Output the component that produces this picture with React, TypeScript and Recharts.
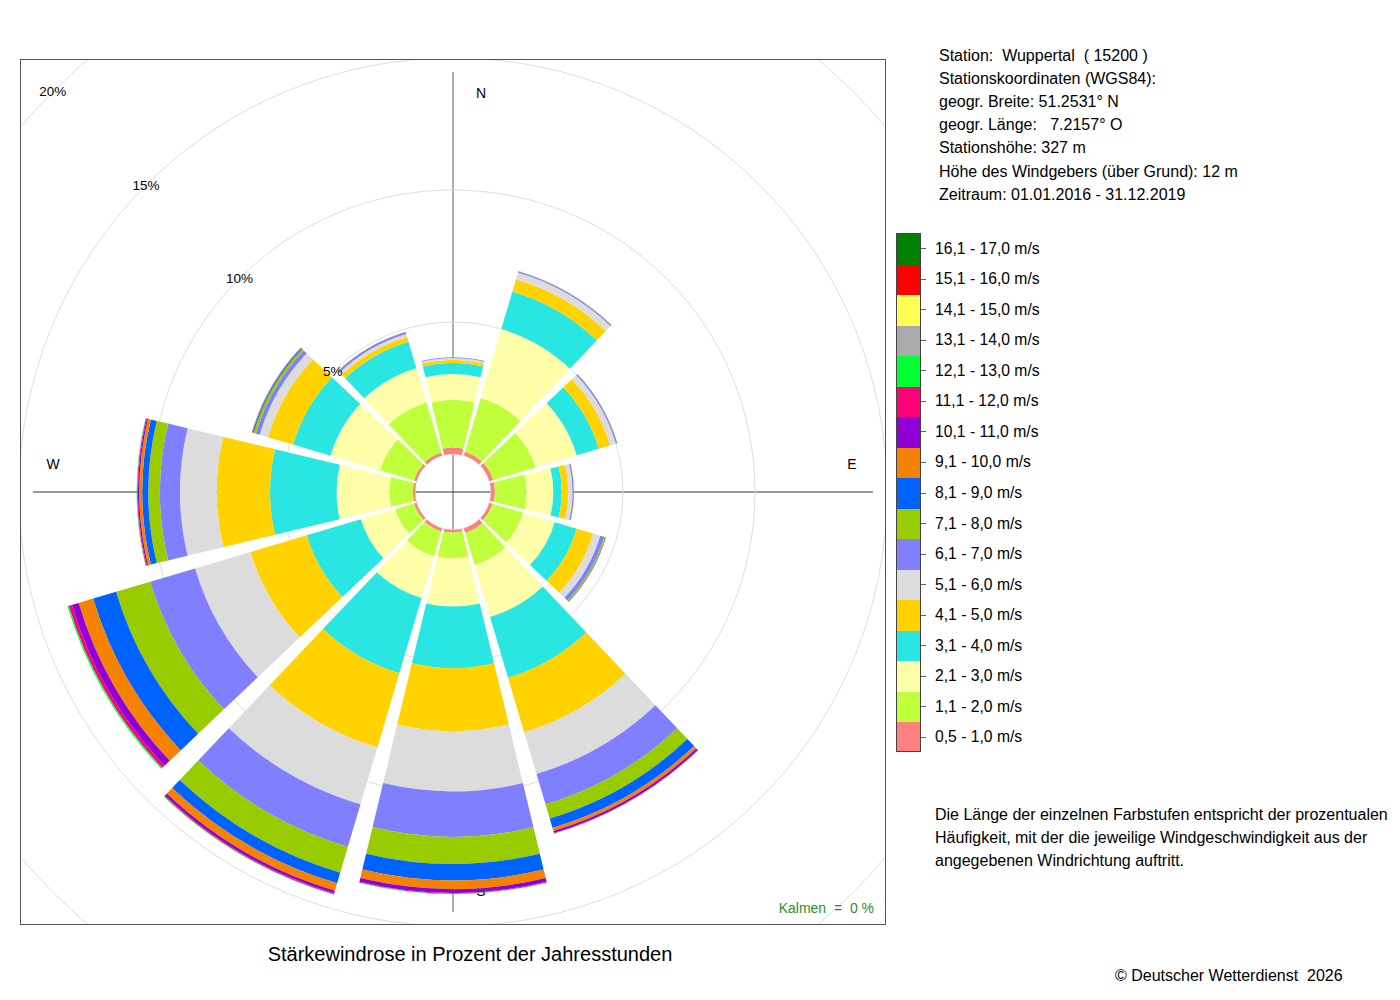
import React from 'react';
import { RadialBarChart, RadialBar, PolarAngleAxis, PolarRadiusAxis, PolarGrid } from 'recharts';

const FONT = '"Liberation Sans", Arial, Helvetica, sans-serif';

// wind directions, clockwise from north
const directions = ['360°', '30°', '60°', '90°', '120°', '150°', '180°', '210°', '240°', '270°', '300°', '330°'];

const speedClasses = [
  '0,5 - 1,0 m/s', '1,1 - 2,0 m/s', '2,1 - 3,0 m/s', '3,1 - 4,0 m/s', '4,1 - 5,0 m/s',
  '5,1 - 6,0 m/s', '6,1 - 7,0 m/s', '7,1 - 8,0 m/s', '8,1 - 9,0 m/s', '9,1 - 10,0 m/s',
  '10,1 - 11,0 m/s', '11,1 - 12,0 m/s', '12,1 - 13,0 m/s', '13,1 - 14,0 m/s',
  '14,1 - 15,0 m/s', '15,1 - 16,0 m/s', '16,1 - 17,0 m/s',
];

const speedColors = [
  '#ff8080', '#bfff3c', '#ffffaa', '#29e6e3', '#ffd200', '#dcdcdc', '#8080ff', '#98cc00',
  '#0062ff', '#f58200', '#9000d6', '#ff0078', '#00ff33', '#aaaaaa', '#ffff55', '#ff0000', '#007f00',
];

// percent of hours per direction, one list per speed class
const ms05to10 = [0.25, 0.15, 0.15, 0.15, 0.12, 0.18, 0.1, 0.12, 0.1, 0.08, 0.1, 0.12];
const ms11to20 = [1.8, 2.12, 1.67, 1.2, 1.21, 1.26, 0.97, 0.98, 0.75, 0.89, 1.35, 1.98];
const ms21to30 = [0.98, 2.73, 1.63, 1.01, 1.25, 2.06, 1.83, 1.65, 1.35, 2.0, 1.95, 1.35];
const ms31to40 = [0.42, 1.48, 0.87, 0.32, 0.87, 2.4, 2.33, 2.97, 2.14, 2.52, 1.48, 1.05];
const ms41to50 = [0.12, 0.49, 0.45, 0.25, 0.65, 2.15, 2.39, 2.93, 2.22, 2.02, 0.99, 0.18];
const ms51to60 = [0.06, 0.26, 0.23, 0.16, 0.28, 1.65, 2.28, 2.25, 2.19, 1.39, 0.33, 0.12];
const ms61to70 = [0.03, 0.05, 0.05, 0.05, 0.15, 1.2, 1.72, 1.68, 1.77, 0.76, 0.15, 0.08];
const ms71to80 = [0, 0.01, 0.01, 0.01, 0.05, 0.56, 1.03, 1.02, 1.35, 0.44, 0.09, 0.01];
const ms81to90 = [0, 0, 0, 0, 0.02, 0.37, 0.62, 0.42, 0.91, 0.23, 0.04, 0];
const ms91to100 = [0, 0, 0, 0, 0.01, 0.12, 0.33, 0.29, 0.57, 0.11, 0.02, 0];
const ms101to110 = [0, 0, 0, 0, 0, 0.08, 0.14, 0.1, 0.27, 0.05, 0.01, 0];
const ms111to120 = [0, 0, 0, 0, 0, 0.02, 0.03, 0.04, 0.12, 0.03, 0, 0];
const ms121to130 = [0, 0, 0, 0, 0, 0.01, 0.02, 0.02, 0.05, 0.02, 0, 0];
const ms131to140 = [0, 0, 0, 0, 0, 0, 0, 0, 0, 0, 0, 0];
const ms141to150 = [0, 0, 0, 0, 0, 0, 0, 0, 0, 0, 0, 0];
const ms151to160 = [0, 0, 0, 0, 0, 0, 0, 0, 0, 0, 0, 0];
const ms161to170 = [0, 0, 0, 0, 0, 0, 0, 0, 0, 0, 0, 0];

const percentTicks = [0, 5, 10, 15, 20];

const stationLines = [
  'Station:  Wuppertal  ( 15200 )',
  'Stationskoordinaten (WGS84):',
  'geogr. Breite: 51.2531° N',
  'geogr. Länge:   7.2157° O',
  'Stationshöhe: 327 m',
  'Höhe des Windgebers (über Grund): 12 m',
  'Zeitraum: 01.01.2016 - 31.12.2019',
];

const noteLines = [
  'Die Länge der einzelnen Farbstufen entspricht der prozentualen',
  'Häufigkeit, mit der die jeweilige Windgeschwindigkeit aus der',
  'angegebenen Windrichtung auftritt.',
];

const classValues = [
  ms05to10, ms11to20, ms21to30, ms31to40, ms41to50, ms51to60, ms61to70, ms71to80, ms81to90,
  ms91to100, ms101to110, ms111to120, ms121to130, ms131to140, ms141to150, ms151to160, ms161to170,
];

const rows = directions.map((dir, i) => {
  const row: Record<string, string | number> = { dir };
  classValues.forEach((vals, k) => {
    row['c' + k] = vals[i];
  });
  return row;
});

const FRAME = 866;
const CX = 433;
const CY = 433;

function PercentTick(props: any) {
  const { x, y, payload } = props;
  if (!payload || payload.value === 0) return null;
  return (
    <text x={x} y={y} textAnchor="middle" dominantBaseline="central" fontSize={13.5} fontFamily={FONT} fill="#000">
      {payload.value}%
    </text>
  );
}

const txt: React.CSSProperties = { position: 'absolute', fontFamily: FONT, whiteSpace: 'pre', color: '#000' };

export default function App() {
  const rowH = 519 / speedClasses.length;
  return (
    <div style={{ position: 'absolute', left: 0, top: 0, width: 1400, height: 1000, background: '#fff' }}>
      {/* cross and compass letters, behind the sectors */}
      <svg style={{ position: 'absolute', left: 20, top: 59 }} width={FRAME} height={FRAME}>
        <line x1={CX} y1={13} x2={CX} y2={853} stroke="#999" strokeWidth={1.6} />
        <line x1={13} y1={CY} x2={853} y2={CY} stroke="#333" strokeWidth={1} />
        <g fontFamily={FONT} fontSize={14} textAnchor="middle" dominantBaseline="central">
          <text x={461} y={34}>N</text>
          <text x={832} y={405}>E</text>
          <text x={461} y={832}>S</text>
          <text x={33} y={405}>W</text>
        </g>
      </svg>

      <div style={{ position: 'absolute', left: 20, top: 59, width: FRAME, height: FRAME }}>
        <RadialBarChart
          width={FRAME}
          height={FRAME}
          data={rows}
          layout="centric"
          cx={CX}
          cy={CY}
          innerRadius={38}
          outerRadius={566}
          startAngle={75}
          endAngle={-285}
          barCategoryGap="5%"
          margin={{ top: 0, right: 0, bottom: 0, left: 0 }}
        >
          <PolarGrid gridType="circle" radialLines={false} stroke="#dddddd" />
          <PolarAngleAxis type="category" dataKey="dir" tick={false} axisLine={false} tickLine={false} />
          {speedClasses.map((name, k) => (
            <RadialBar key={name} name={name} dataKey={'c' + k} stackId="rose" fill={speedColors[k]} isAnimationActive={false} />
          ))}
          <PolarRadiusAxis
            type="number"
            domain={[0, 20]}
            ticks={percentTicks}
            angle={135}
            axisLine={false}
            tickLine={false}
            tick={PercentTick}
          />
        </RadialBarChart>
        <div style={{ ...txt, left: 700, width: 154, top: 840, lineHeight: '18px', fontSize: 14, textAlign: 'right', color: '#2a8f2a' }}>
          {'Kalmen  =  0 %'}
        </div>
      </div>

      <div style={{ position: 'absolute', left: 20, top: 59, width: FRAME, height: FRAME, boxSizing: 'border-box', border: '1px solid #555' }} />

      <div style={{ ...txt, left: 70, width: 800, top: 941, fontSize: 20, lineHeight: '26px', textAlign: 'center' }}>
        Stärkewindrose in Prozent der Jahresstunden
      </div>

      <div style={{ ...txt, left: 939, top: 43.5, fontSize: 16, lineHeight: '23.2px' }}>
        {stationLines.map((l) => (
          <div key={l}>{l}</div>
        ))}
      </div>

      {/* speed legend */}
      <div style={{ position: 'absolute', left: 896, top: 233, width: 25, height: 519, boxSizing: 'border-box', border: '1px solid #444', overflow: 'hidden' }}>
        {speedClasses
          .map((_, k) => speedClasses.length - 1 - k)
          .map((k) => (
            <div key={k} style={{ height: rowH, background: speedColors[k] }} />
          ))}
      </div>
      {speedClasses
        .map((_, k) => speedClasses.length - 1 - k)
        .map((k, i) => (
          <React.Fragment key={k}>
            <div style={{ position: 'absolute', left: 921, top: 233 + rowH * (i + 0.5), width: 5, height: 1, background: '#666' }} />
            <div style={{ ...txt, left: 935, top: 233 + rowH * (i + 0.5) - 10.5, fontSize: 15.7, lineHeight: '22px' }}>
              {speedClasses[k]}
            </div>
          </React.Fragment>
        ))}

      <div style={{ ...txt, left: 935, top: 802.5, fontSize: 16, lineHeight: '23px' }}>
        {noteLines.map((l) => (
          <div key={l}>{l}</div>
        ))}
      </div>

      <div style={{ ...txt, left: 1115, top: 965, fontSize: 16, lineHeight: '22px' }}>
        {'© Deutscher Wetterdienst  2026'}
      </div>
    </div>
  );
}
